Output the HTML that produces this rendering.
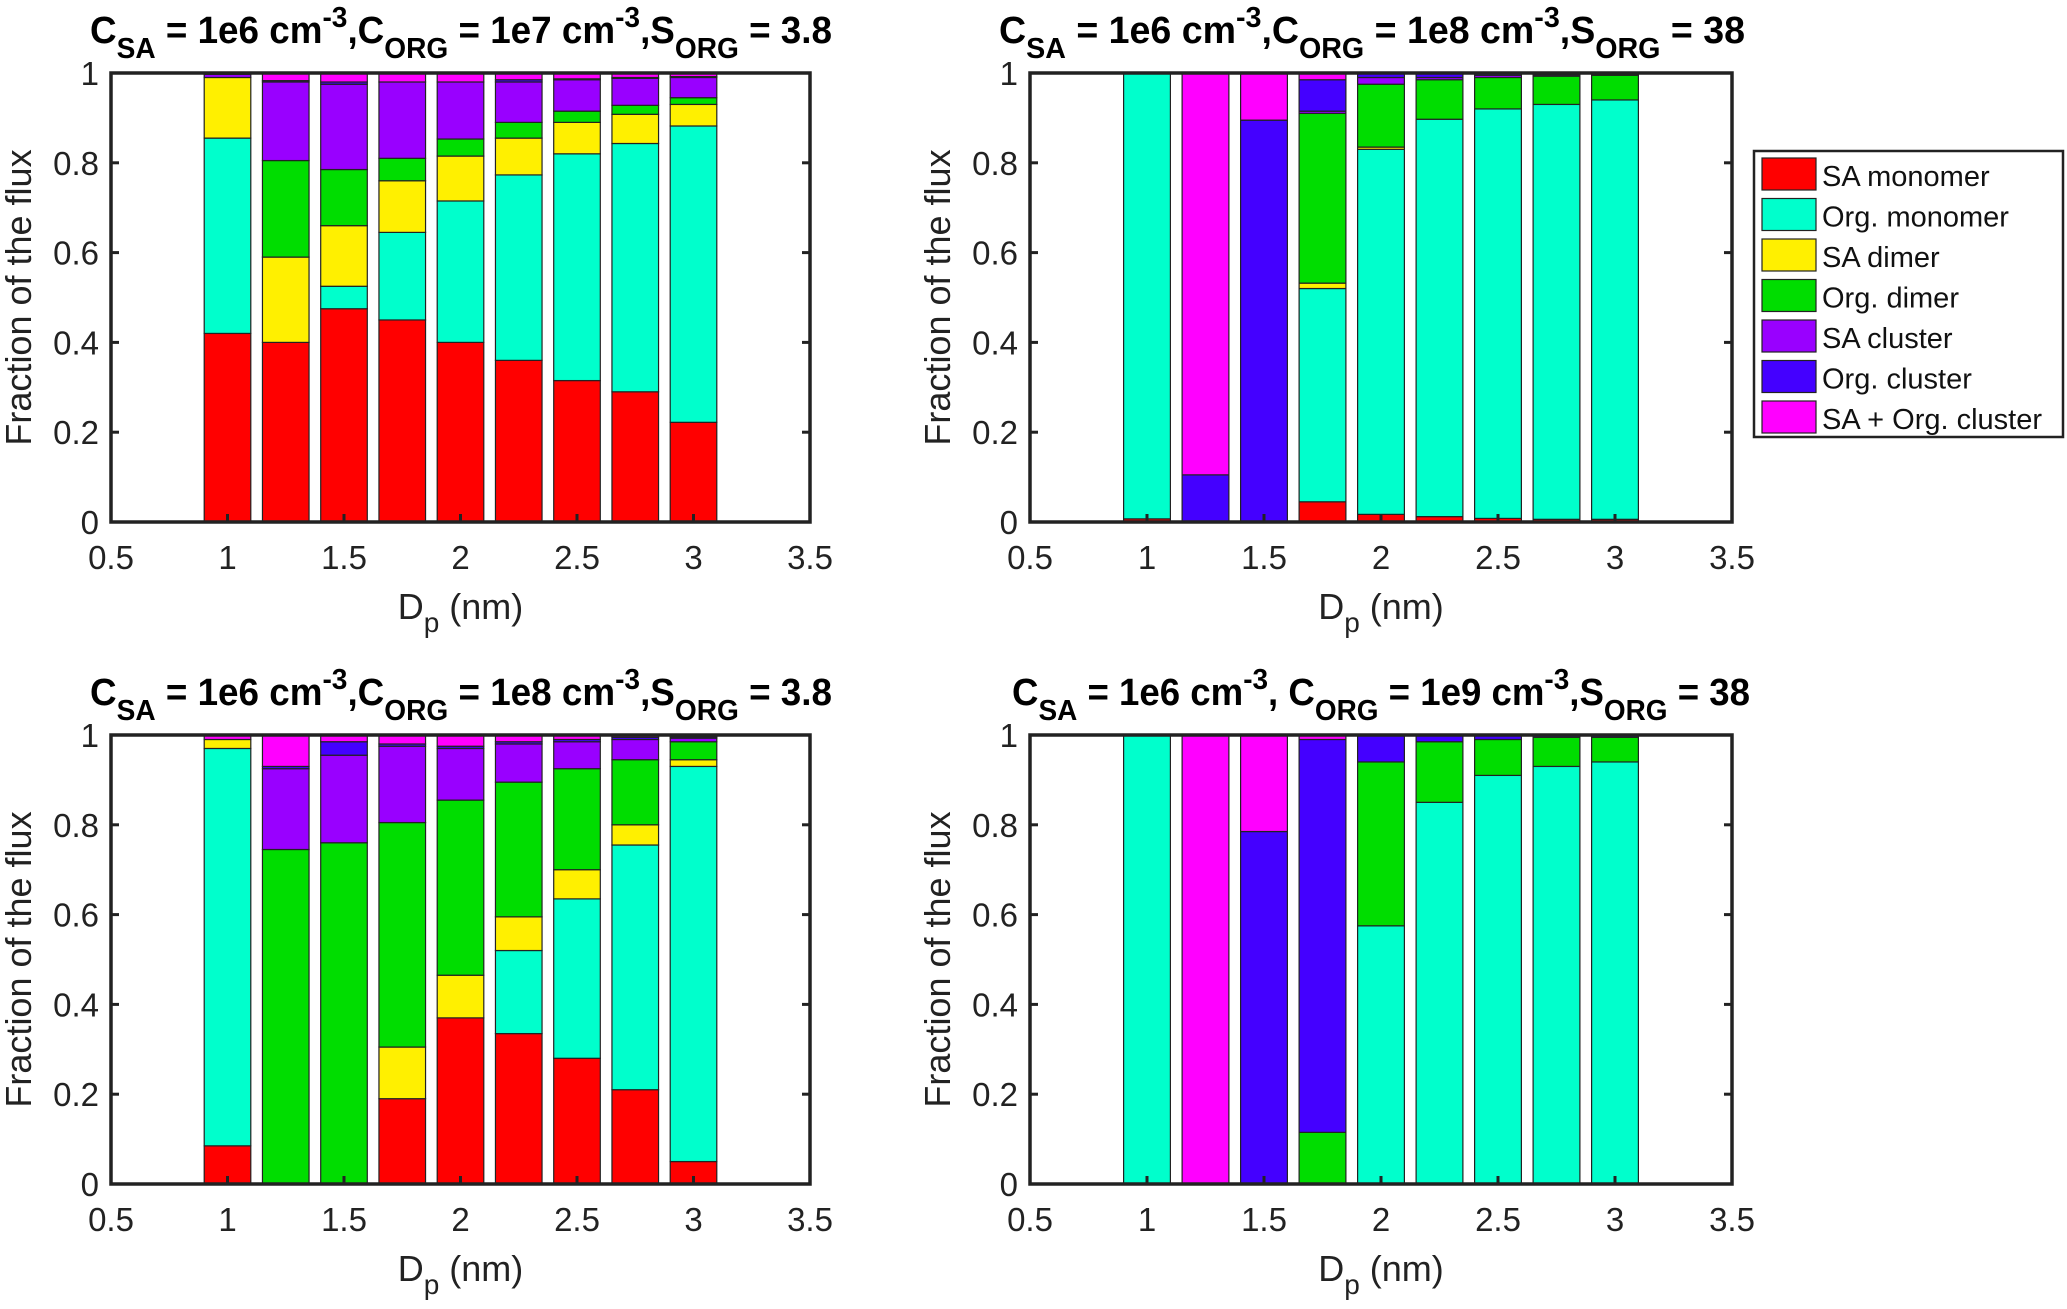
<!DOCTYPE html>
<html><head><meta charset="utf-8">
<style>
html,body{margin:0;padding:0;background:#fff;}
svg{display:block;font-family:"Liberation Sans",Arial,sans-serif;}
</style></head>
<body>
<svg id="fig" width="2067" height="1309" viewBox="0 0 2067 1309" xmlns="http://www.w3.org/2000/svg"></svg>
<script>
// Categories (particle diameter, nm)
const diameters = [1, 1.25, 1.5, 1.75, 2, 2.25, 2.5, 2.75, 3];
const seriesNames = ["SA monomer","Org. monomer","SA dimer","Org. dimer","SA cluster","Org. cluster","SA + Org. cluster"];
const seriesColors = ["#ff0000","#00ffcc","#fff000","#00dd00","#9900ff","#4400ff","#ff00ff"];
const xTicks = [0.5,1,1.5,2,2.5,3,3.5];
const xTickLabels = ["0.5","1","1.5","2","2.5","3","3.5"];
const yTicks = [0,0.2,0.4,0.6,0.8,1];
const yTickLabels = ["0","0.2","0.4","0.6","0.8","1"];

// Cumulative tops per series (stack order as legend), panel A: Corg=1e7, S=3.8
const aSAmono   = [0.42,0.40,0.475,0.45,0.40,0.36,0.315,0.29,0.222];
const aOrgMono  = [0.855,0.40,0.525,0.645,0.715,0.773,0.82,0.843,0.882];
const aSAdim    = [0.99,0.59,0.66,0.76,0.815,0.855,0.89,0.908,0.93];
const aOrgDim   = [0.99,0.805,0.785,0.81,0.853,0.89,0.915,0.928,0.945];
const aSAclu    = [0.997,0.98,0.975,0.98,0.98,0.98,0.985,0.988,0.99];
const aOrgClu   = [0.997,0.983,0.98,0.98,0.98,0.985,0.987,0.99,0.992];
const aMixClu   = [1,1,1,1,1,1,1,1,1];
// panel B: Corg=1e8, S=38
const bSAmono   = [0.007,0,0,0.045,0.017,0.012,0.008,0.006,0.006];
const bOrgMono  = [1,0,0,0.52,0.83,0.897,0.92,0.93,0.94];
const bSAdim    = [1,0,0,0.532,0.835,0.897,0.92,0.93,0.94];
const bOrgDim   = [1,0,0,0.91,0.975,0.985,0.99,0.993,0.995];
const bSAclu    = [1,0,0,0.915,0.99,0.99,0.995,0.996,0.997];
const bOrgClu   = [1,0.105,0.895,0.985,0.998,0.998,1,1,1];
const bMixClu   = [1,1,1,1,1,1,1,1,1];
// panel C: Corg=1e8, S=3.8
const cSAmono   = [0.085,0,0,0.19,0.37,0.335,0.28,0.21,0.05];
const cOrgMono  = [0.97,0,0,0.19,0.37,0.52,0.635,0.755,0.93];
const cSAdim    = [0.99,0,0,0.305,0.465,0.595,0.70,0.80,0.945];
const cOrgDim   = [0.99,0.745,0.76,0.805,0.855,0.895,0.925,0.945,0.985];
const cSAclu    = [0.99,0.925,0.955,0.975,0.97,0.98,0.985,0.99,0.993];
const cOrgClu   = [0.99,0.93,0.985,0.98,0.975,0.985,0.99,0.995,0.996];
const cMixClu   = [1,1,1,1,1,1,1,1,1];
// panel D: Corg=1e9, S=38
const dSAmono   = [0,0,0,0,0,0,0,0,0];
const dOrgMono  = [1,0,0,0,0.575,0.85,0.91,0.93,0.94];
const dSAdim    = [1,0,0,0,0.575,0.85,0.91,0.93,0.94];
const dOrgDim   = [1,0,0,0.115,0.94,0.985,0.99,0.995,0.995];
const dSAclu    = [1,0,0,0.115,0.94,0.985,0.99,0.995,0.995];
const dOrgClu   = [1,0,0.785,0.99,1,1,1,1,1];
const dMixClu   = [1,1,1,1,1,1,1,1,1];

const NS="http://www.w3.org/2000/svg";
const svg=document.getElementById('fig');
function mk(tag,attrs,parent){const e=document.createElementNS(NS,tag);for(const k in attrs)e.setAttribute(k,attrs[k]);(parent||svg).appendChild(e);return e;}

const panels=[
 {id:'a',x0:111,x1:810,y0:73,y1:522,tx:90,tw:742,stacks:[aSAmono,aOrgMono,aSAdim,aOrgDim,aSAclu,aOrgClu,aMixClu],
  t:[["C",""],["SA","sub"],[" = 1e6 cm",""],["-3","sup"],[",C",""],["ORG","sub"],[" = 1e7 cm",""],["-3","sup"],[",S",""],["ORG","sub"],[" = 3.8",""]]},
 {id:'b',x0:1030,x1:1732,y0:73,y1:522,tx:999,tw:746,stacks:[bSAmono,bOrgMono,bSAdim,bOrgDim,bSAclu,bOrgClu,bMixClu],
  t:[["C",""],["SA","sub"],[" = 1e6 cm",""],["-3","sup"],[",C",""],["ORG","sub"],[" = 1e8 cm",""],["-3","sup"],[",S",""],["ORG","sub"],[" = 38",""]]},
 {id:'c',x0:111,x1:810,y0:735,y1:1184,tx:90,tw:742,stacks:[cSAmono,cOrgMono,cSAdim,cOrgDim,cSAclu,cOrgClu,cMixClu],
  t:[["C",""],["SA","sub"],[" = 1e6 cm",""],["-3","sup"],[",C",""],["ORG","sub"],[" = 1e8 cm",""],["-3","sup"],[",S",""],["ORG","sub"],[" = 3.8",""]]},
 {id:'d',x0:1030,x1:1732,y0:735,y1:1184,tx:1012,tw:738,stacks:[dSAmono,dOrgMono,dSAdim,dOrgDim,dSAclu,dOrgClu,dMixClu],
  t:[["C",""],["SA","sub"],[" = 1e6 cm",""],["-3","sup"],[", C",""],["ORG","sub"],[" = 1e9 cm",""],["-3","sup"],[",S",""],["ORG","sub"],[" = 38",""]]}
];

panels.forEach(p=>{
  const g=mk('g',{});
  
  
  const xs=v=>p.x0+(v-0.5)/3*(p.x1-p.x0);
  const ys=v=>p.y1-v*(p.y1-p.y0);
  const bw=0.2*(p.x1-p.x0)/3;
  mk('rect',{x:p.x0,y:p.y0,width:p.x1-p.x0,height:p.y1-p.y0,fill:'#fff'},g);
  diameters.forEach((d,i)=>{
    let prev=0;
    p.stacks.forEach((arr,s)=>{
      const top=arr[i];
      if(top>prev+1e-6){
        const r=mk('rect',{x:xs(d)-bw/2,y:ys(top),width:bw,height:ys(prev)-ys(top),fill:seriesColors[s],stroke:'#222','stroke-width':1.2},g);
        
        
        prev=top;
      }
    });
  });
  yTicks.forEach((v,k)=>{
    mk('line',{x1:p.x0,x2:p.x0+8,y1:ys(v),y2:ys(v),stroke:'#222','stroke-width':3},g);
    mk('line',{x1:p.x1,x2:p.x1-8,y1:ys(v),y2:ys(v),stroke:'#222','stroke-width':3},g);
    const t=mk('text',{x:p.x0-12,y:ys(v)+12,'text-anchor':'end','font-size':33,fill:'#222'},g);
    t.textContent=yTickLabels[k];
    
    
  });
  xTicks.forEach((v,k)=>{
    mk('line',{x1:xs(v),x2:xs(v),y1:p.y1,y2:p.y1-8,stroke:'#222','stroke-width':3},g);
    const t=mk('text',{x:xs(v),y:p.y1+47,'text-anchor':'middle','font-size':33,fill:'#222'},g);
    t.textContent=xTickLabels[k];
    
    
  });
  const fr=mk('rect',{x:p.x0,y:p.y0,width:p.x1-p.x0,height:p.y1-p.y0,fill:'none',stroke:'#222','stroke-width':3.5},g);
  
  
  const yl=mk('text',{x:0,y:0,transform:`translate(${p.x0-80},${(p.y0+p.y1)/2}) rotate(-90)`,'text-anchor':'middle','font-size':36,fill:'#222'},g);
  yl.textContent='Fraction of the flux';
  
  
  const xl=mk('text',{x:(p.x0+p.x1)/2,y:p.y1+97,'text-anchor':'middle','font-size':36,fill:'#222'},g);
  
  
  const s1=mk('tspan',{},xl);s1.textContent='D';
  const s2=mk('tspan',{dy:13,'font-size':28},xl);s2.textContent='p';
  const s3=mk('tspan',{dy:-13},xl);s3.textContent=' (nm)';
  const tt=mk('text',{x:p.tx,y:p.y0-30,'font-size':38,'font-weight':'bold',fill:'#000',textLength:p.tw,lengthAdjust:'spacingAndGlyphs'},g);
  
  
  let cur=0;
  p.t.forEach(([txt,kind])=>{
    const target=kind==='sub'?15:kind==='sup'?-16:0;
    const a={dy:target-cur};
    if(kind)a['font-size']=29;
    const sp=mk('tspan',a,tt);sp.textContent=txt;cur=target;
  });
});

const lg=mk('g',{});


mk('rect',{x:1754,y:151,width:309,height:286,fill:'#fff',stroke:'#222','stroke-width':2.5},lg);
seriesNames.forEach((n,i)=>{
  const y=158+i*40.5;
  const e=mk('g',{},lg);
  
  
  mk('rect',{x:1762,y:y,width:54,height:32,fill:seriesColors[i],stroke:'#222','stroke-width':1.2},e);
  const t=mk('text',{x:1822,y:y+28,'font-size':29,fill:'#111'},e);
  t.textContent=n;
});
</script>
</body></html>
